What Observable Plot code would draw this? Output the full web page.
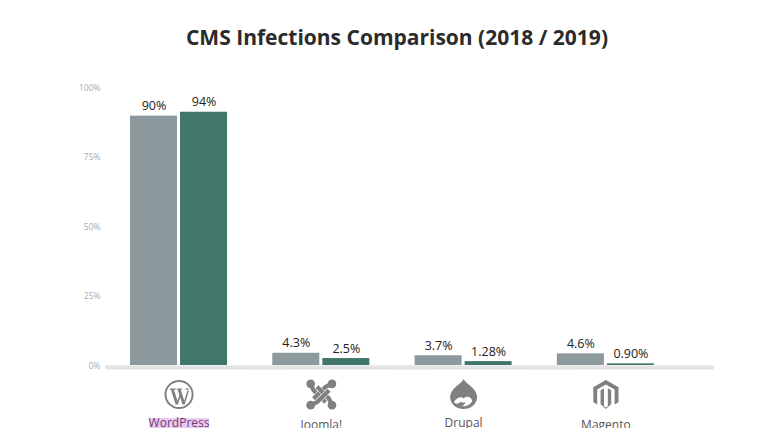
<!DOCTYPE html>
<html>
<head>
<meta charset="utf-8">
<script src="https://cdn.jsdelivr.net/npm/d3@7"></script>
<script src="https://cdn.jsdelivr.net/npm/@observablehq/plot@0.6"></script>
<style>
html,body{margin:0;padding:0;background:#fff;}
#title{box-sizing:border-box;width:760px;height:60px;padding:22px 0 0 34px;text-align:center;
font:700 21px/30px "Open Sans",sans-serif;color:#2b2b2b;}
</style>
</head>
<body>
<div id="title">CMS Infections Comparison (2018 / 2019)</div>
<div id="chart"></div>
<script>
const platforms = ["WordPress", "Joomla!", "Drupal", "Magento"];
const years = ["2018", "2019"];
// bar heights as drawn in the picture (in % of the axis)
const drawn2018 = [89.7, 4.4, 3.5, 4.2];
const drawn2019 = [91.1, 2.5, 1.4, 0.6];
// printed labels
const labels2018 = ["90%", "4.3%", "3.7%", "4.6%"];
const labels2019 = ["94%", "2.5%", "1.28%", "0.90%"];
const yTicks = [0, 25, 50, 75, 100];

const rows = platforms.flatMap((p, i) => [
  {platform: p, year: years[0], value: drawn2018[i], label: labels2018[i]},
  {platform: p, year: years[1], value: drawn2019[i], label: labels2019[i]}
]);

const uri = s => "data:image/svg+xml," + encodeURIComponent(s);
const G = "#808080";
const band = d => `<path d="${d}" fill="none" stroke="#fff" stroke-width="5.400"/><path d="${d}" fill="none" stroke="${G}" stroke-width="4.400"/>`;
const icons = {
  "WordPress": uri(`<svg xmlns="http://www.w3.org/2000/svg" viewBox="0 0 32 32"><circle cx="16" cy="16" r="14" fill="none" stroke="${G}" stroke-width="2"/><g fill="none" stroke="${G}"><path d="M6.5 10.500H12.500M13.500 10.500H19M22.500 10.500H26" stroke-width="1.300"/><path d="M9 10.500L14 26M16 10.500L21 26" stroke-width="3"/><path d="M14 26L17.500 16M21 26L25.500 12" stroke-width="1.600"/></g></svg>`),
  "Joomla!": uri(`<svg xmlns="http://www.w3.org/2000/svg" viewBox="0 0 32 32">${band("M5 5L8 11.500L20.500 24")}${band("M27 5L20.500 8L8 20.500")}${band("M27 27L24 20.500L11.500 8")}${band("M5 27L11.500 24L24 11.500")}<g fill="${G}"><circle cx="5" cy="5" r="4.500"/><circle cx="27" cy="5" r="4.500"/><circle cx="5" cy="27" r="4.500"/><circle cx="27" cy="27" r="4.500"/></g></svg>`),
  "Drupal": uri(`<svg xmlns="http://www.w3.org/2000/svg" viewBox="0 0 32 32"><path d="M16 0c2 5 13 9 14 18 0 8-7 13-14 13S2 26 2 18C3 9 14 5 16 0z" fill="${G}"/><path d="M6 24c3-6 8-6 10-4 3-3 8-2 9 3-3 4-7 6-11 5 3-1 4-3 3-4-3 1-4-1-5 0-1 2-4 2-6 0z" fill="#fff"/></svg>`),
  "Magento": uri(`<svg xmlns="http://www.w3.org/2000/svg" viewBox="0 0 32 32"><path d="M16 1 L29 8.500V24l-4 2.300V10.800L16 5.600 7 10.800V26.300L3 24V8.500z" fill="${G}"/><path d="M14 9.500v18.500l2 1.500 2-1.500V9.500l3.500 2V26l-5.500 5-5.500-5V11.500z" fill="${G}"/></svg>`)
};
const highlight = uri(`<svg xmlns="http://www.w3.org/2000/svg" width="60" height="12" preserveAspectRatio="none" viewBox="0 0 60 12"><rect width="60" height="12" fill="#ecc9ee"/></svg>`);

const font = '"Open Sans",sans-serif';
const plot = Plot.plot({
  width: 760,
  height: 368,
  marginTop: 27,
  marginBottom: 63,
  marginLeft: 105,
  marginRight: 46,
  style: {overflow: "hidden", fontFamily: font, background: "#fff"},
  fx: {axis: null, domain: platforms, paddingInner: 0.318, paddingOuter: 0.299, align: 0.294, round: false},
  x: {axis: null, domain: years, paddingInner: 0.06, paddingOuter: 0, round: false},
  y: {axis: null, domain: [0, 100]},
  color: {domain: years, range: ["#8c9a9e", "#41776b"]},
  marks: [
    Plot.barY(rows, {fx: "platform", x: "year", y: "value", fill: "year"}),
    Plot.ruleY([0], {stroke: "#e4e4e4", strokeWidth: 4, dy: 2, insetLeft: -25, insetRight: -60}),
    Plot.axisY({anchor: "left", ticks: yTicks, tickSize: 0, tickPadding: 30, dy: 0.5,
      tickFormat: d => d + "%", fontSize: 8.5, color: "#aaaaaa", label: null}),
    Plot.text(rows, {fx: "platform", x: "year", y: "value", text: "label", dy: -6, lineAnchor: "bottom",
      fontSize: 12.5, fill: "#222222"}),
    Plot.image(platforms, {fx: d => d, src: d => icons[d], frameAnchor: "bottom", width: 31, height: 31, dy: 29}),
    Plot.image(["WordPress"], {fx: d => d, src: () => highlight, frameAnchor: "bottom", width: 60, height: 12, dy: 58, preserveAspectRatio: "none"}),
    Plot.text(["WordPress"], {fx: d => d, text: d => d, frameAnchor: "bottom", lineAnchor: "middle", dy: 58, fontSize: 12, fill: "#6b3d78"}),
    Plot.text(["Drupal"], {fx: d => d, text: d => d, frameAnchor: "bottom", lineAnchor: "middle", dy: 58, fontSize: 12, fill: "#555555"}),
    Plot.text(["Joomla!", "Magento"], {fx: d => d, text: d => d, frameAnchor: "bottom", lineAnchor: "middle", dy: 60, fontSize: 12, fill: "#555555"})
  ]
});
document.getElementById("chart").appendChild(plot);
</script>
</body>
</html>
